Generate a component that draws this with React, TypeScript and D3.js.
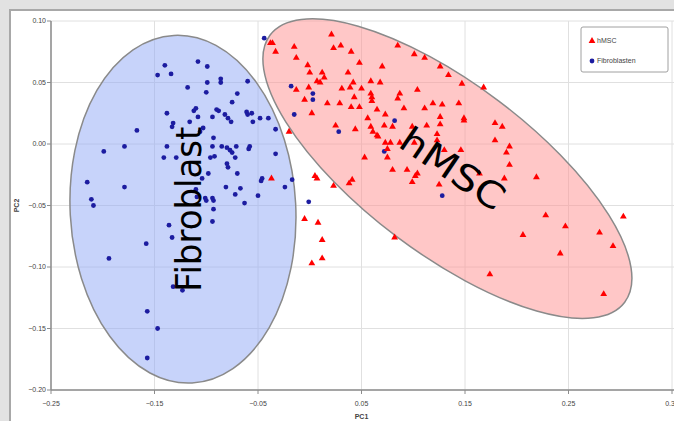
import * as d3 from "d3";

const width = 674;
const height = 421;

// PC1 / PC2 scores
const fibroblast: [number, number][] = [
  [-0.14, 0.064], [-0.147, 0.056], [-0.134, 0.057], [-0.108, 0.067], [-0.099, 0.063],
  [-0.118, 0.046], [-0.099, 0.05], [-0.1, 0.042], [-0.086, 0.053], [-0.086, 0.05],
  [-0.06, 0.051], [-0.07, 0.041], [-0.075, 0.034], [-0.138, 0.025], [-0.11, 0.029],
  [-0.112, 0.027], [-0.108, 0.022], [-0.09, 0.028], [-0.088, 0.027], [-0.094, 0.022],
  [-0.082, 0.024], [-0.079, 0.021], [-0.076, 0.018], [-0.061, 0.026], [-0.06, 0.024],
  [-0.056, 0.025], [-0.055, 0.018], [-0.048, 0.021], [-0.04, 0.021], [-0.132, 0.017],
  [-0.133, 0.014], [-0.116, 0.018], [-0.103, 0.013], [-0.106, 0.01], [-0.033, 0.012],
  [-0.093, 0.005], [-0.138, -0.002], [-0.141, -0.011], [-0.129, -0.011], [-0.094, -0.002],
  [-0.085, -0.002], [-0.08, -0.003], [-0.077, -0.005], [-0.075, -0.007], [-0.072, -0.011],
  [-0.071, -0.002], [-0.058, -0.002], [-0.059, -0.004], [-0.033, -0.008], [-0.096, -0.011],
  [-0.092, -0.01], [-0.08, -0.016], [-0.079, -0.019], [-0.098, -0.024], [-0.07, -0.024],
  [-0.104, -0.028], [-0.046, -0.028], [-0.017, -0.029], [-0.024, -0.035], [-0.081, -0.035],
  [-0.072, -0.041], [-0.067, -0.036], [-0.05, -0.042], [-0.094, -0.044], [-0.101, -0.044],
  [-0.044, 0.086], [-0.167, 0.011], [-0.179, -0.002], [-0.199, -0.006], [-0.215, -0.031],
  [-0.179, -0.035], [-0.211, -0.045], [-0.209, -0.05], [-0.136, -0.066], [-0.133, -0.076],
  [-0.158, -0.081], [-0.194, -0.093], [-0.157, -0.136], [-0.147, -0.15], [-0.157, -0.174],
  [-0.1, -0.046], [-0.093, -0.046], [-0.093, -0.053], [-0.094, -0.063], [-0.063, -0.048],
  [-0.047, -0.03], [-0.001, -0.047], [-0.11, -0.037], [-0.109, -0.043], [-0.018, 0.047],
  [0.003, 0.041], [0.003, 0.036], [-0.015, 0.024], [0.028, 0.01], [0.082, 0.019],
  [0.072, -0.006], [0.128, -0.042], [-0.132, -0.116], [-0.123, -0.119],
];

const hmsc: [number, number][] = [
  [-0.038, 0.082], [-0.036, 0.082], [-0.033, 0.075], [0.021, 0.089], [-0.015, 0.079],
  [-0.013, 0.07], [0.023, 0.078], [0.03, 0.08], [0.04, 0.075], [0.048, 0.066],
  [0.07, 0.063], [-0.002, 0.064], [0.0, 0.058], [0.012, 0.058], [0.014, 0.054],
  [0.007, 0.051], [0.01, 0.05], [-0.001, 0.046], [-0.013, 0.044], [-0.005, 0.036],
  [0.002, 0.025], [0.017, 0.033], [0.029, 0.033], [0.037, 0.058], [0.042, 0.05],
  [0.039, 0.046], [0.031, 0.045], [0.05, 0.045], [0.043, 0.038], [0.04, 0.03],
  [0.048, 0.03], [0.059, 0.051], [0.068, 0.05], [0.059, 0.041], [0.06, 0.038],
  [0.06, 0.035], [0.065, 0.028], [0.056, 0.021], [0.059, 0.014], [0.061, 0.01],
  [0.065, 0.007], [0.066, 0.006], [0.073, 0.024], [0.072, 0.015], [0.044, 0.012],
  [0.025, 0.015], [-0.02, 0.01], [0.087, 0.041], [0.085, 0.037], [0.091, 0.029],
  [0.08, 0.014], [0.099, 0.014], [0.073, 0.001], [0.078, 0.001], [0.053, -0.011],
  [0.075, -0.011], [0.005, -0.026], [0.007, -0.028], [0.023, -0.034], [0.038, -0.032],
  [0.041, -0.029], [0.08, -0.021], [0.094, -0.021], [0.099, -0.031], [0.104, -0.024],
  [0.104, 0.044], [0.111, 0.029], [0.119, 0.033], [0.128, 0.032], [0.144, 0.033],
  [0.149, 0.021], [0.149, 0.019], [0.126, 0.022], [0.126, 0.016], [0.113, 0.015],
  [0.123, 0.008], [0.123, 0.003], [0.087, 0.001], [0.101, 0.001], [0.075, -0.004],
  [0.13, -0.005], [0.146, -0.005], [0.179, 0.017], [0.186, 0.014], [0.179, 0.003],
  [0.193, -0.002], [0.19, -0.007], [0.193, -0.017], [0.188, -0.028], [0.219, -0.027],
  [0.164, -0.024], [0.125, -0.033], [0.228, -0.058], [0.206, -0.074], [0.082, -0.076],
  [0.247, -0.067], [0.303, -0.059], [0.28, -0.072], [0.293, -0.083], [0.242, -0.089],
  [0.174, -0.106], [0.284, -0.122], [-0.005, -0.061], [0.008, -0.064], [0.012, -0.078],
  [0.002, -0.097], [0.012, -0.093], [-0.037, -0.028], [0.102, -0.026], [0.085, 0.08],
  [0.101, 0.073], [0.111, 0.07], [0.126, 0.063], [0.134, 0.056], [0.147, 0.049],
  [0.168, 0.046],
];

const xTicks = [-0.25, -0.15, -0.05, 0.05, 0.15, 0.25, 0.35];
const yTicks = [0.1, 0.05, 0, -0.05, -0.1, -0.15, -0.2];

// group ellipses: centre and semi axes in PC units, tilt in degrees
const groups = [
  { label: "Fibroblast", cx: -0.1225, cy: -0.053, rx: 0.109, ry: 0.1415, angle: -3, fill: "#8fa8f5", textAngle: -90, textLen: 165, textX: -0.117, textY: -0.053 },
  { label: "hMSC", cx: 0.133, cy: -0.02, rx: 0.2145, ry: 0.069, angle: 37, fill: "#ff9090", textAngle: 34, textLen: 118, textX: 0.138, textY: -0.02 },
];

const legendItems = [
  { name: "hMSC", color: "#ff0000", shape: "triangle" },
  { name: "Fibroblasten", color: "#1c1ca0", shape: "circle" },
];

const x = d3.scaleLinear().domain([-0.25, 0.35]).range([51, 672]);
const y = d3.scaleLinear().domain([-0.2, 0.1]).range([390, 21]);
const fmt = d3.format(".2f");
const tri = d3.symbol(d3.symbolTriangle, 20)();
const tickFont = "'Liberation Sans', Arial, sans-serif";

export default function App() {
  return (
    <div style={{ position: "fixed", left: 0, top: 0 }}>
      <svg width={width} height={height} style={{ display: "block" }}>
        <rect width={width} height={height} fill="#e2e2e2" />
        <rect x={10} y={10} width={720} height={440} fill="#fff" stroke="#a8a8a8" strokeWidth={2} />

        {/* grid */}
        {yTicks.map((t) => (
          <line key={"gy" + t} x1={x(-0.25)} x2={width} y1={y(t)} y2={y(t)} stroke="#e0e0e0" />
        ))}
        {xTicks.map((t) => (
          <line key={"gx" + t} x1={x(t)} x2={x(t)} y1={y(0.1)} y2={y(-0.2)} stroke="#e0e0e0" />
        ))}

        {/* ellipses */}
        {groups.map((g) => {
          const px = x(g.cx);
          const py = y(g.cy);
          const rx = x(g.cx + g.rx) - px;
          const ry = y(g.cy - g.ry) - py;
          return (
            <ellipse
              key={g.label}
              cx={px}
              cy={py}
              rx={rx}
              ry={ry}
              transform={`rotate(${g.angle},${px},${py})`}
              fill={g.fill}
              fillOpacity={0.5}
              stroke="#8a8a8a"
              strokeWidth={1.5}
            />
          );
        })}

        {/* axes */}
        <line x1={x(-0.25)} x2={x(-0.25)} y1={y(0.1)} y2={y(-0.2)} stroke="#8c8c8c" strokeWidth={1.5} />
        <line x1={x(-0.25)} x2={width} y1={y(-0.2)} y2={y(-0.2)} stroke="#8c8c8c" strokeWidth={1.5} />
        {yTicks.map((t) => (
          <g key={"yt" + t}>
            <line x1={x(-0.25) - 4} x2={x(-0.25)} y1={y(t)} y2={y(t)} stroke="#8c8c8c" />
            <text x={x(-0.25) - 5} y={y(t)} dy="0.35em" textAnchor="end" fontSize={7} fontFamily={tickFont} fill="#444">
              {fmt(t)}
            </text>
          </g>
        ))}
        {xTicks.map((t) => (
          <g key={"xt" + t}>
            <line x1={x(t)} x2={x(t)} y1={y(-0.2)} y2={y(-0.2) + 4} stroke="#8c8c8c" />
            <text x={x(t)} y={y(-0.2) + 16} textAnchor="middle" fontSize={7} fontFamily={tickFont} fill="#444">
              {fmt(t)}
            </text>
          </g>
        ))}
        <text x={x(0.05)} y={419} textAnchor="middle" fontSize={7} fontWeight="bold" fontFamily={tickFont} fill="#444">PC1</text>
        <text transform={`translate(19,${y(-0.05)}) rotate(-90)`} textAnchor="middle" fontSize={7} fontWeight="bold" fontFamily={tickFont} fill="#444">PC2</text>

        {/* points */}
        {fibroblast.map((d, i) => (
          <circle key={"f" + i} cx={x(d[0])} cy={y(d[1])} r={2.4} fill="#1c1ca0" />
        ))}
        {hmsc.map((d, i) => (
          <path key={"h" + i} d={tri} transform={`translate(${x(d[0])},${y(d[1])})`} fill="#ff0000" />
        ))}

        {/* group labels */}
        {groups.map((g) => {
          const px = x(g.textX);
          const py = y(g.textY);
          return (
            <text
              key={"t" + g.label}
              transform={`translate(${px},${py}) rotate(${g.textAngle})`}
              textAnchor="middle"
              dy="0.35em"
              fontSize={36}
              fontFamily="'DejaVu Sans', sans-serif"
              textLength={g.textLen}
              lengthAdjust="spacingAndGlyphs"
              fill="#000"
            >
              {g.label}
            </text>
          );
        })}

        {/* legend */}
        <g transform="translate(581,27)">
          <rect width={87} height={45} fill="#fff" stroke="#a0a0a0" rx={2} />
          {legendItems.map((l, i) => (
            <g key={l.name} transform={`translate(11,${14 + i * 20})`}>
              {l.shape === "triangle" ? (
                <path d={tri} fill={l.color} />
              ) : (
                <circle r={2.4} fill={l.color} />
              )}
              <text x={5} dy="0.35em" fontSize={7} fontFamily={tickFont} fill="#444">{l.name}</text>
            </g>
          ))}
        </g>
      </svg>
    </div>
  );
}
